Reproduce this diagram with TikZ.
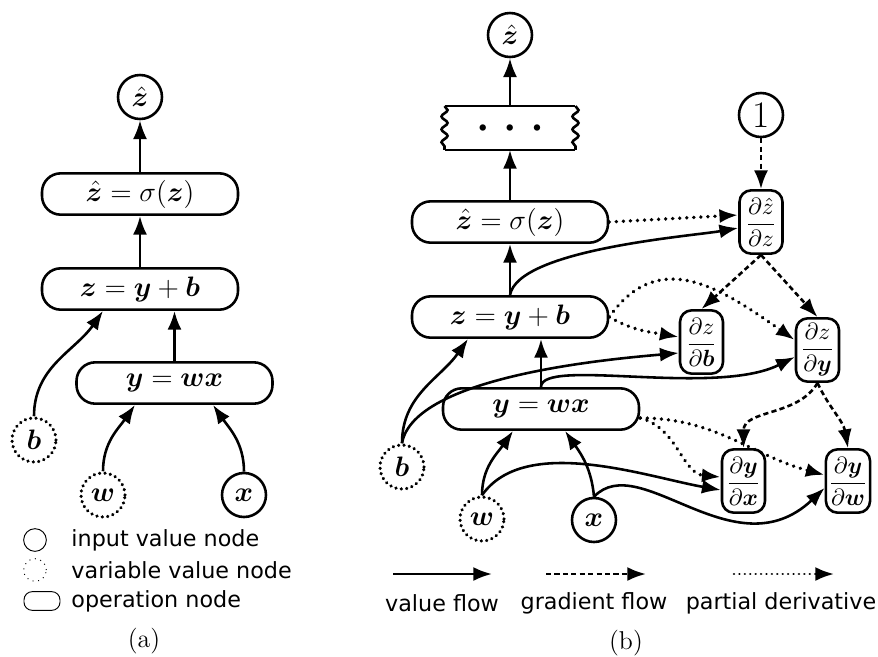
\documentclass[tikz,border=0pt]{standalone}
\usepackage{amsmath,bm}
\usepackage{fontspec}
\setsansfont{DejaVu Sans}
\usetikzlibrary{arrows.meta,positioning,calc,decorations.pathmorphing}
\tikzset{
  opnode/.style={draw,line width=1.1pt,rounded corners=8pt,minimum width=2.94cm,minimum height=0.62cm,inner sep=1pt,font=\fontsize{11.5}{13}\selectfont},
  innode/.style={draw,circle,line width=1.1pt,minimum size=0.66cm,inner sep=0pt,font=\fontsize{12}{14}\selectfont},
  varnode/.style={innode,dash pattern=on 0.01pt off 2.3pt,line cap=round,line width=1.5pt},
  dnode/.style={draw,line width=1.1pt,rounded corners=5pt,minimum width=0.645cm,minimum height=0.95cm,inner sep=1pt},
  valflow/.style={-{Latex[length=8pt,width=6pt]},line width=1.1pt},
  gradflow/.style={valflow,dash pattern=on 2.2pt off 1.4pt},
  partflow/.style={valflow,dash pattern=on 0.01pt off 3pt,line cap=round,line width=1.6pt},
  tearside/.style={line width=1.1pt,decorate,decoration={snake,segment length=5.5pt,amplitude=1.3pt}},
  legtext/.style={font=\sffamily\fontsize{9.5}{11}\selectfont,inner sep=0pt},
}
\begin{document}
\begin{tikzpicture}[x=0.015cm,y=0.015cm]
        \useasboundingbox (0,0) rectangle (878,-656);
        % (a) nodes
        \node[innode] (zhatA) at (140,-97) {$\hat{\bm z}$};
        \node[opnode] (sigA) at (140,-194) {$\hat{\bm z}=\sigma(\bm z)$};
        \node[opnode] (addA) at (140,-289) {$\bm z=\bm y+\bm b$};
        \node[opnode] (mulA) at (174.5,-383) {$\bm y=\bm w\bm x$};
        \node[varnode] (bA) at (34,-440) {$\bm b$};
        \node[varnode] (wA) at (103,-495) {$\bm w$};
        \node[innode] (xA) at (244,-495) {$\bm x$};
        % (a) value flow
        \draw[valflow] (sigA.north) -- (zhatA.south);
        \draw[valflow] (addA.north) -- (sigA.south);
        \draw[valflow] (mulA.north) -- (mulA.north |- addA.south);
        \draw[valflow] (bA.north) to[out=90,in=235] ($(addA.south)+(-37,0)$);
        \draw[valflow] (wA.north) to[out=90,in=235] ($(mulA.south)+(-39.5,0)$);
        \draw[valflow] (xA.north) to[out=90,in=-55] ($(mulA.south)+(38.5,0)$);
        % (a) legend
        \node[draw,circle,thin,minimum size=0.34cm,inner sep=0pt] (legIn) at (35,-540) {};
        \node[draw,circle,thin,dotted,minimum size=0.34cm,inner sep=0pt] (legVar) at (35,-570) {};
        \node[draw,thin,rounded corners=3.5pt,minimum width=0.54cm,minimum height=0.28cm,inner sep=0pt] (legOp) at (42,-601) {};
        \node[legtext,anchor=west] (legInT) at (71,-540) {input value node};
        \node[legtext,anchor=west] (legVarT) at (71,-570) {variable value node};
        \node[legtext,anchor=west] (legOpT) at (71,-601) {operation node};
        \node[font=\fontsize{11}{13}\selectfont] (capA) at (144,-641) {(a)};
        % (b) nodes
        \node[innode] (zhatB) at (510,-35) {$\hat{\bm z}$};
        \node[minimum width=1.95cm,minimum height=0.645cm,inner sep=0pt] (dotsB) at (510,-128)
          {\fontsize{6.5}{8}\selectfont$\bullet\hspace{6pt}\bullet\hspace{6pt}\bullet$};
        \draw[line width=1.1pt] (dotsB.north west) -- (dotsB.north east);
        \draw[line width=1.1pt] (dotsB.south west) -- (dotsB.south east);
        \draw[tearside] (dotsB.north west) -- (dotsB.south west);
        \draw[tearside] (dotsB.north east) -- (dotsB.south east);
        \node[opnode] (sigB) at (510,-222) {$\hat{\bm z}=\sigma(\bm z)$};
        \node[opnode] (addB) at (510,-317) {$\bm z=\bm y+\bm b$};
        \node[opnode] (mulB) at (541,-409) {$\bm y=\bm w\bm x$};
        \node[varnode] (bB) at (402,-467) {$\bm b$};
        \node[varnode] (wB) at (482,-519) {$\bm w$};
        \node[innode] (xB) at (594,-520) {$\bm x$};
        \node[innode,font=\fontsize{16}{18}\selectfont] (oneB) at (761,-115) {1};
        \node[dnode] (dzhat) at (761,-222) {$\dfrac{\partial\hat z}{\partial z}$};
        \node[dnode] (dzb) at (701.5,-342) {$\dfrac{\partial z}{\partial\bm b}$};
        \node[dnode] (dzy) at (817.5,-350) {$\dfrac{\partial z}{\partial\bm y}$};
        \node[dnode] (dyx) at (743.5,-481) {$\dfrac{\partial\bm y}{\partial\bm x}$};
        \node[dnode] (dyw) at (848,-481) {$\dfrac{\partial\bm y}{\partial\bm w}$};
        % (b) value flow
        \draw[valflow] (sigB.north) -- (dotsB.south);
        \draw[valflow] (dotsB.north) -- (zhatB.south);
        \draw[valflow] (addB.north) -- (sigB.south);
        \draw[valflow] (mulB.north) -- (mulB.north |- addB.south);
        \draw[valflow] (bB.north) to[out=90,in=235] ($(addB.south)+(-42,0)$);
        \draw[valflow] (wB.north) to[out=90,in=235] ($(mulB.south)+(-28,0)$);
        \draw[valflow] (xB.north) to[out=95,in=-55] ($(mulB.south)+(24,0)$);
        \draw[valflow] (addB.north) to[out=80,in=190,looseness=0.5] ($(dzhat.west)+(0,-6)$);
        \draw[valflow] (bB.north) to[out=80,in=185,looseness=0.6] ($(dzb.west)+(0,-11)$);
        \draw[valflow] (mulB.north) .. controls +(0,30) and +(-80,-40) .. ($(dzy.west)+(0,-7)$);
        \draw[valflow] (wB.north) to[out=55,in=170,looseness=0.8] ($(dyx.west)+(0,-9)$);
        \draw[valflow] (xB.north) .. controls +(46,48) and +(-90,-85) .. ($(dyw.west)+(0,-7)$);
        % (b) partial derivatives
        \draw[partflow] (sigB.east) -- ($(dzhat.west)+(0,7)$);
        \draw[partflow] (addB.east) to[out=-30,in=170] ($(dzb.west)+(0,5)$);
        \draw[partflow] (addB.east) to[out=55,in=145,looseness=1.2] ($(dzy.west)+(0,10)$);
        \draw[partflow] ($(mulB.east)+(0,-9)$) to[out=-15,in=175] ($(dyx.west)+(0,4)$);
        \draw[partflow] ($(mulB.east)+(0,-9)$) to[out=0,in=165] ($(dyw.west)+(0,6)$);
        % (b) gradient flow
        \draw[gradflow] (oneB.south) -- (dzhat.north);
        \draw[gradflow] (dzhat.south) -- (dzb.north);
        \draw[gradflow] (dzhat.south) -- (dzy.north);
        \draw[gradflow] (dzy.south) to[out=-120,in=90] (dyx.north);
        \draw[gradflow] (dzy.south) to[out=-65,in=100] (dyw.north);
        % (b) legend
        \coordinate (vfS) at (393,-574);
        \coordinate (vfE) at (492,-574);
        \coordinate (gfS) at (546,-574);
        \coordinate (gfE) at (646,-574);
        \coordinate (pdS) at (734,-574);
        \coordinate (pdE) at (834,-574);
        \draw[valflow] (vfS) -- (vfE);
        \draw[gradflow] (gfS) -- (gfE);
        \draw[partflow,line width=1.1pt,dash pattern=on 0.01pt off 2.3pt] (pdS) -- (pdE);
        \node[legtext] (vfT) at (442,-603) {value flow};
        \node[legtext] (gfT) at (594,-603) {gradient flow};
        \node[legtext] (pdT) at (781,-603) {partial derivative};
        \node[font=\fontsize{11}{13}\selectfont] (capB) at (626,-643) {(b)};
\end{tikzpicture}
\end{document}
